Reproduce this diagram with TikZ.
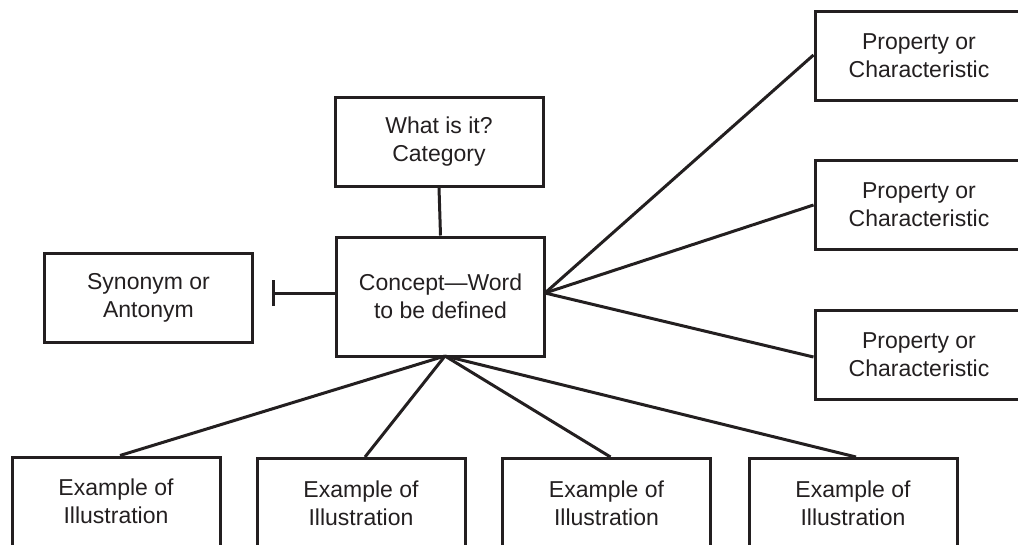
\documentclass[tikz,border=0pt]{standalone}
\usepackage{fontspec}
\setmainfont{Liberation Sans}
\definecolor{ink}{HTML}{231F20}
\begin{document}
\begin{tikzpicture}[x=1pt,y=-1pt,
  box/.style={draw=ink,line width=3pt,text=ink,align=center,inner sep=0pt,
    minimum width=208pt,minimum height=89pt,
    font=\fontsize{23}{28}\selectfont},
  conn/.style={draw=ink,line width=3pt}]
\useasboundingbox (0,0) rectangle (1018,544);
\clip (0,0) rectangle (1018,544);
\node[box] (cat) at (439,141.5) {What is it?\\Category};
\node[box,minimum height=119pt] (con) at (440.5,296.5) {Concept—Word\\to be defined};
\node[box] (syn) at (148.5,297.5) {Synonym or\\Antonym};
\node[box] (p1) at (919,56) {Property or\\Characteristic};
\node[box] (p2) at (919,205) {Property or\\Characteristic};
\node[box] (p3) at (919,355) {Property or\\Characteristic};
\node[box] (e1) at (116,501.5) {Example of\\Illustration};
\node[box] (e2) at (361,503) {Example of\\Illustration};
\node[box] (e3) at (606.5,503) {Example of\\Illustration};
\node[box] (e4) at (853,503) {Example of\\Illustration};
\coordinate (cr) at (545,293);
\coordinate (cl) at (337,293);
\coordinate (cb) at (445,356);
\coordinate (tb) at (273,293);
\draw[conn] (cat.south) -- (con.north);
\draw[conn] (cl) -- (tb);
\draw[conn] ([yshift=-13pt]tb) -- ([yshift=13pt]tb);
\draw[conn] (cr) -- ([yshift=1pt]p1.west);
\draw[conn] (cr) -- (p2.west);
\draw[conn] (cr) -- ([yshift=-2pt]p3.west);
\draw[conn] (cb) -- ([xshift=4pt]e1.north);
\draw[conn] (cb) -- ([xshift=4pt]e2.north);
\draw[conn] (cb) -- ([xshift=4pt]e3.north);
\draw[conn] (cb) -- ([xshift=3pt]e4.north);
\end{tikzpicture}
\end{document}
